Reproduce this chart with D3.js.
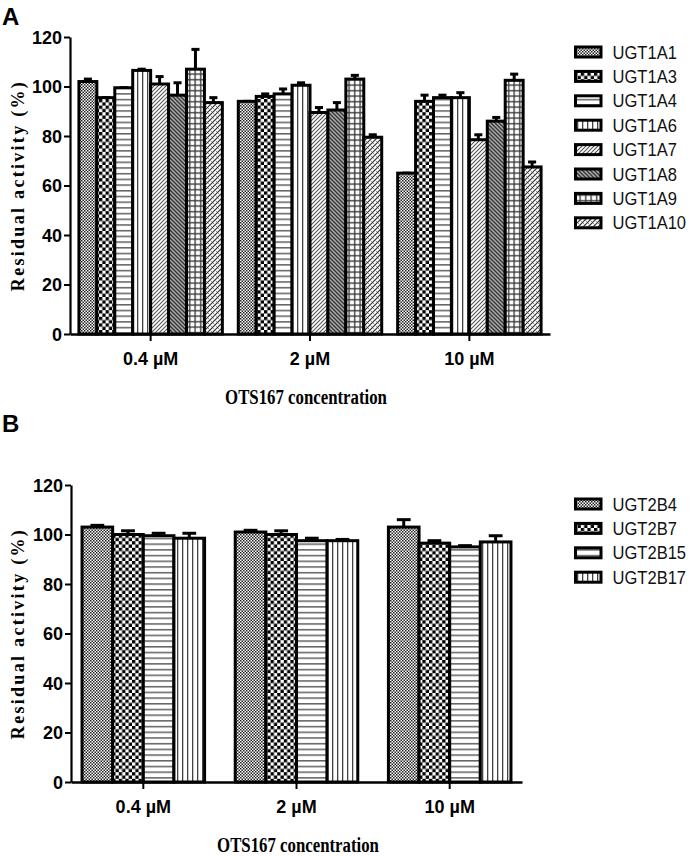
<!DOCTYPE html>
<html>
<head>
<meta charset="utf-8">
<script src="https://cdn.jsdelivr.net/npm/d3@7"></script>
<style>
  body { margin: 0; background: #fff; }
  svg { display: block; }
</style>
</head>
<body>
<svg id="chart" width="694" height="856"></svg>
<script>
// ---------- DATA ----------
const concentrations = ["0.4 µM", "2 µM", "10 µM"];
const yTicks = [0, 20, 40, 60, 80, 100, 120];

// Panel A
const isoformsA = ["UGT1A1", "UGT1A3", "UGT1A4", "UGT1A6", "UGT1A7", "UGT1A8", "UGT1A9", "UGT1A10"];
const meanA_04 = [102, 95.5, 99.5, 106.5, 101, 96.5, 107, 93.5];
const errA_04  = [1, 0, 0, 0.5, 3, 5, 8, 2];
const meanA_2  = [94, 96, 97, 100.5, 89.5, 90.5, 103, 79.5];
const errA_2   = [0, 1, 2, 1, 2, 3, 1.5, 1];
const meanA_10 = [65, 94, 95.5, 95.5, 78.5, 86, 102.5, 67.5];
const errA_10  = [0, 2.5, 1, 2, 2, 1.5, 2.5, 2];

// Panel B
const isoformsB = ["UGT2B4", "UGT2B7", "UGT2B15", "UGT2B17"];
const meanB_04 = [103, 100, 99.5, 98.5];
const errB_04  = [0.7, 1.5, 1, 2];
const meanB_2  = [101, 100, 97.5, 97.5];
const errB_2   = [0.7, 1.5, 1, 0.5];
const meanB_10 = [103, 96.5, 95, 97];
const errB_10  = [3, 1, 0.5, 2.5];

const patternsA = ["pFine", "pCheck", "pHoriz", "pVert", "pDiagF", "pDiagB", "pGrid", "pHatch"];
const patternsB = ["pFine", "pCheck", "pHoriz", "pVert"];

// ---------- PATTERNS ----------
const svg = d3.select("#chart");
const defs = svg.append("defs");

function pat(id, w, h) {
  const p = defs.append("pattern").attr("id", id)
    .attr("patternUnits", "userSpaceOnUse").attr("width", w).attr("height", h);
  p.append("rect").attr("width", w).attr("height", h).attr("fill", "#fff");
  return p;
}
{ // fine checker
  const p = pat("pFine", 3, 3);
  p.append("rect").attr("x", 0).attr("y", 0).attr("width", 1.5).attr("height", 1.5).attr("fill", "#222");
  p.append("rect").attr("x", 1.5).attr("y", 1.5).attr("width", 1.5).attr("height", 1.5).attr("fill", "#222");
}
{ // big checker
  const p = pat("pCheck", 6.6, 6.6);
  p.append("rect").attr("x", 0).attr("y", 0).attr("width", 3.3).attr("height", 3.3).attr("fill", "#000");
  p.append("rect").attr("x", 3.3).attr("y", 3.3).attr("width", 3.3).attr("height", 3.3).attr("fill", "#000");
}
{ // horizontal lines
  const p = pat("pHoriz", 6, 5.7);
  p.append("rect").attr("x", 0).attr("y", 2).attr("width", 6).attr("height", 1.4).attr("fill", "#555");
}
{ // vertical lines
  const p = pat("pVert", 5, 6);
  p.append("rect").attr("x", 2).attr("y", 0).attr("width", 1.3).attr("height", 6).attr("fill", "#444");
}
{ // forward diagonal
  const p = pat("pDiagF", 4, 4);
  p.append("path").attr("d", "M-1,1 L1,-1 M0,4 L4,0 M3,5 L5,3").attr("stroke", "#555").attr("stroke-width", 1.1);
}
{ // backward diagonal, dark
  const p = pat("pDiagB", 4, 4);
  p.select("rect").attr("fill", "#aaa");
  p.append("path").attr("d", "M-1,3 L1,5 M0,0 L4,4 M3,-1 L5,1").attr("stroke", "#333").attr("stroke-width", 1.3);
}
{ // grid
  const p = pat("pGrid", 5.5, 5.5);
  p.append("rect").attr("x", 0).attr("y", 2).attr("width", 5.5).attr("height", 1.3).attr("fill", "#333");
  p.append("rect").attr("x", 2).attr("y", 0).attr("width", 1.3).attr("height", 5.5).attr("fill", "#333");
}
{ // hatch with dashes
  const p = pat("pHatch", 5, 5);
  p.append("path").attr("d", "M-1,1 L1,-1 M0,5 L5,0 M4,6 L6,4").attr("stroke", "#333").attr("stroke-width", 1.2);
  p.append("path").attr("d", "M0.5,0.5 L2,2 M3,3 L4.5,4.5").attr("stroke", "#777").attr("stroke-width", 0.8);
}

// ---------- DRAW PANEL ----------
function drawPanel(cfg) {
  const g = svg.append("g");
  const y = d3.scaleLinear().domain([0, 120]).range([cfg.y0, cfg.y120]);
  const x = d3.scaleBand().domain(concentrations)
    .range([cfg.xLeft, cfg.xRight]).paddingInner(cfg.pi).paddingOuter(cfg.po);
  const xi = d3.scaleBand().domain(cfg.isoforms).range([0, x.bandwidth()]);

  const rows = [];
  concentrations.forEach((c, ci) => {
    cfg.isoforms.forEach((iso, ii) => {
      rows.push({ c, iso, ii, v: cfg.means[ci][ii], e: cfg.errs[ci][ii] });
    });
  });

  // error bars (behind bars)
  const eb = g.append("g");
  rows.forEach(d => {
    const cx = x(d.c) + xi(d.iso) + xi.bandwidth() / 2;
    if (d.e > 0) {
      eb.append("line").attr("x1", cx).attr("x2", cx)
        .attr("y1", y(d.v)).attr("y2", y(d.v + d.e))
        .attr("stroke", "#000").attr("stroke-width", 3);
    }
    const cw = xi.bandwidth() * 0.45;
    eb.append("line").attr("x1", cx - cw / 2).attr("x2", cx + cw / 2)
      .attr("y1", y(d.v + d.e)).attr("y2", y(d.v + d.e))
      .attr("stroke", "#000").attr("stroke-width", 3);
  });

  // bars
  g.append("g").selectAll("rect").data(rows).join("rect")
    .attr("x", d => x(d.c) + xi(d.iso))
    .attr("y", d => y(d.v))
    .attr("width", xi.bandwidth())
    .attr("height", d => y(0) - y(d.v))
    .attr("fill", d => `url(#${cfg.patterns[d.ii]})`)
    .attr("stroke", "#000").attr("stroke-width", 3);

  // y axis
  const ya = g.append("g").attr("transform", `translate(${cfg.xLeft},0)`)
    .call(d3.axisLeft(y).tickValues(yTicks).tickSize(6).tickSizeOuter(0));
  ya.select(".domain").attr("stroke-width", 2.2);
  ya.selectAll(".tick line").attr("stroke-width", 2);
  ya.selectAll(".tick text").attr("font-family", "Liberation Sans, Arial, sans-serif")
    .attr("font-size", 18).attr("font-weight", "bold").attr("fill", "#000").attr("x", -8).attr("dy", "0.34em");

  // x axis
  const xa = g.append("g").attr("transform", `translate(0,${cfg.y0})`)
    .call(d3.axisBottom(x).tickSize(7).tickSizeOuter(0));
  xa.select(".domain").attr("stroke-width", 2.6);
  xa.selectAll(".tick line").attr("stroke-width", 2);
  xa.selectAll(".tick text").attr("font-family", "Liberation Sans, Arial, sans-serif")
    .attr("font-size", 18).attr("font-weight", "bold").attr("fill", "#000").attr("y", 0).attr("dy", 31);

  // axis titles
  g.append("text")
    .attr("transform", `translate(${cfg.yTitleX},${(cfg.y0 + cfg.y120) / 2}) rotate(-90)`)
    .attr("text-anchor", "middle")
    .attr("font-family", "Liberation Serif, Times New Roman, serif")
    .attr("font-weight", "bold").attr("font-size", 18).attr("letter-spacing", 2.3)
    .text("Residual activity (%)");
  g.append("text")
    .attr("transform", `translate(${cfg.xTitleCx},${cfg.xTitleY}) scale(0.8,1)`)
    .attr("text-anchor", "middle")
    .attr("font-family", "Liberation Serif, Times New Roman, serif")
    .attr("font-weight", "bold").attr("font-size", 21)
    .text("OTS167 concentration");

  // panel letter
  g.append("text").attr("x", 2).attr("y", cfg.letterY)
    .attr("font-family", "Liberation Sans, Arial, sans-serif")
    .attr("font-weight", "bold").attr("font-size", 24).text(cfg.letter);

  // legend
  const lg = g.append("g");
  cfg.isoforms.forEach((iso, i) => {
    const cy = cfg.legY + i * cfg.legStep;
    lg.append("rect").attr("x", 575.5).attr("y", cy - 5).attr("width", 25.5).attr("height", 10)
      .attr("fill", `url(#${cfg.patterns[i]})`).attr("stroke", "#000").attr("stroke-width", 3);
    lg.append("text")
      .attr("transform", `translate(612.5,${cy + 6.5}) scale(0.92,1)`)
      .attr("font-family", "Liberation Sans, Arial, sans-serif")
      .attr("font-size", 18).attr("fill", "#111")
      .text(iso);
  });
}

drawPanel({
  letter: "A", letterY: 25,
  isoforms: isoformsA, patterns: patternsA,
  means: [meanA_04, meanA_2, meanA_10], errs: [errA_04, errA_2, errA_10],
  y0: 334, y120: 37, xLeft: 70, xRight: 550, pi: 0.1, po: 0.056,
  yTitleX: 24, xTitleCx: 306, xTitleY: 404,
  legY: 52, legStep: 24.4
});

drawPanel({
  letter: "B", letterY: 432,
  isoforms: isoformsB, patterns: patternsB,
  means: [meanB_04, meanB_2, meanB_10], errs: [errB_04, errB_2, errB_10],
  y0: 782, y120: 485, xLeft: 71, xRight: 522, pi: 0.2, po: 0.072,
  yTitleX: 24, xTitleCx: 298, xTitleY: 852,
  legY: 504, legStep: 24.4
});
</script>
</body>
</html>
